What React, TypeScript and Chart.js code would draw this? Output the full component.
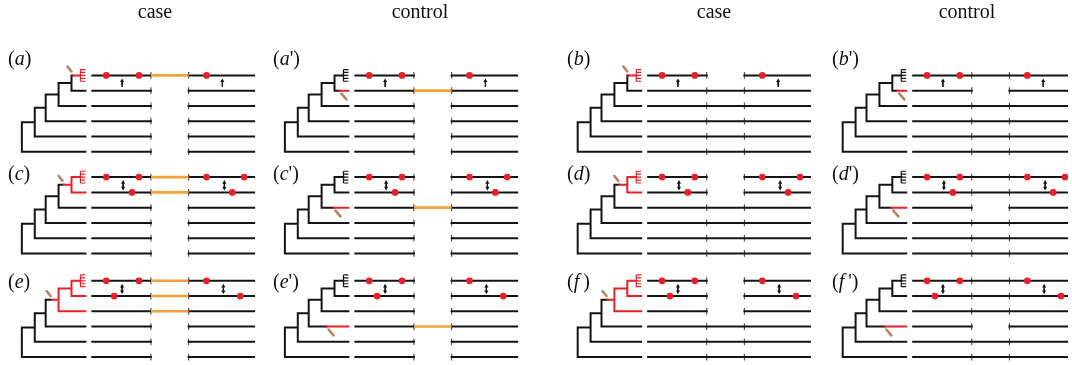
import React, { useEffect, useRef } from "react";
import { Chart, registerables } from "chart.js";

Chart.register(...registerables);

// ---------------- data ----------------
const columnHeaders = ["case", "control", "case", "control"];
const leftLetters = ["a", "c", "e"];
const rightLetters = ["b", "d", "f"];

// tree topology (ladder tree with six tips)
const treeParent: Record<string, string> = {
  t1: "n12", t2: "n12", t3: "n123", t4: "n1234", t5: "n5", t6: "root",
  n12: "n123", n123: "n1234", n1234: "n5", n5: "root",
};
const nodeDepth: Record<string, number> = {
  root: 18, n5: 31, n1234: 42, n123: 55, n12: 68,
  t1: 77, t2: 82, t3: 82, t4: 82, t5: 82, t6: 82,
};
const tipRow: Record<string, number> = { t1: 0, t2: 1, t3: 2, t4: 3, t5: 4, t6: 5 };
const combTeeth = [-6, -3, 0, 3, 6];
const combEnd = 82;

// mutated branch and where on it the mutation sits
const caseMutBranch = ["t1", "n12", "n123"];
const caseMutPos = [69, 60, 48];
const controlMutBranch = ["t2", "t3", "t4"];
const controlMutPos = [73, 67, 60];

// which sequence rows are affected
const caseAffectedRows = [[0], [0, 1], [0, 1, 2]];
const controlAffectedRows = [[1], [2], [3]];

// sequence mutations (red dots) on rows 1 and 2
const seqMutRow1 = [[103, 136, 204], [103, 136, 204, 242], [103, 136, 204]];
const seqMutRow2 = [[], [129, 230], [111, 238]];
const arrowPos = [[119, 220], [120, 222], [119, 221]];
const arrowTwoHeaded = [false, true, true];

const segmentLeft = [89, 148];
const segmentRight = [186, 252];

// ---------------- layout ----------------
const W = 1072;
const H = 365;
const colOffset = [0, 265, 560, 827];
const blockTop = [73, 177, 283];
const rowStep = 15.6;
const headerCenter = [155, 420, 714, 967];
const headerBaseline = 18;
const labelLeft = [8, 273, 567, 832];
const labelBaseline = [65, 180, 288];
const FONT = "'Liberation Serif', 'Times New Roman', serif";
const FS = 20;

const BLACK = "#141414";
const RED = "#e8202a";
const ORANGE = "#f2a238";
const BROWN = "#b98561";
const TICK = "#555555";

type Seg = [number, number, number, number];
type Pt = { x: number; y: number | null };

function segsToData(segs: Seg[]): Pt[] {
  const out: Pt[] = [];
  for (const [x1, y1, x2, y2] of segs) {
    out.push({ x: x1, y: y1 }, { x: x2, y: y2 }, { x: x2, y: null });
  }
  return out;
}

function buildAll() {
  const black: Seg[] = [];
  const red: Seg[] = [];
  const orange: Seg[] = [];
  const ticks: Seg[] = [];
  const thinBlack: Seg[] = [];
  const thinRed: Seg[] = [];
  const brown: Seg[] = [];
  const arrows: Seg[] = [];
  const dots: Pt[] = [];
  const upHeads: Pt[] = [];
  const downHeads: Pt[] = [];

  const children: Record<string, string[]> = {};
  for (const [c, p] of Object.entries(treeParent)) {
    (children[p] = children[p] || []).push(c);
  }

  for (let col = 0; col < 4; col++) {
    for (let block = 0; block < 3; block++) {
      const ox = colOffset[col];
      const top = blockTop[block];
      const isCase = col % 2 === 0;
      const isDeletion = col >= 2;
      const mutBranch = isCase ? caseMutBranch[block] : controlMutBranch[block];
      const mutX = isCase ? caseMutPos[block] : controlMutPos[block];
      const affected = isCase ? caseAffectedRows[block] : controlAffectedRows[block];

      const yOf: Record<string, number> = {};
      const calcY = (id: string): number => {
        if (id in tipRow) {
          yOf[id] = top + tipRow[id] * rowStep;
        } else {
          const ys = children[id].map(calcY);
          yOf[id] = ys.reduce((a, b) => a + b, 0) / ys.length;
        }
        return yOf[id];
      };
      calcY("root");

      const isUnder = (id: string) => {
        let cur: string | undefined = id;
        while (cur) {
          if (cur === mutBranch) return true;
          cur = treeParent[cur];
        }
        return false;
      };

      // stems
      for (const id of Object.keys(treeParent)) {
        const px = ox + nodeDepth[treeParent[id]];
        const x = ox + nodeDepth[id];
        const y = yOf[id];
        if (id === mutBranch) {
          black.push([px, y, ox + mutX, y]);
          red.push([ox + mutX, y, x, y]);
        } else if (isUnder(id)) {
          red.push([px, y, x, y]);
        } else {
          black.push([px, y, x, y]);
        }
      }
      // verticals
      for (const id of Object.keys(children)) {
        const ys = children[id].map((c) => yOf[c]);
        const x = ox + nodeDepth[id];
        const seg: Seg = [x, Math.min(...ys), x, Math.max(...ys)];
        (isUnder(id) ? red : black).push(seg);
      }
      // comb on tip 1
      {
        const cx = ox + nodeDepth.t1;
        const cy = yOf.t1;
        const combRed = isUnder("t1");
        const target = combRed ? thinRed : thinBlack;
        target.push([cx, cy + combTeeth[0], cx, cy + combTeeth[combTeeth.length - 1]]);
        for (const t of combTeeth) target.push([cx, cy + t, ox + combEnd, cy + t]);
      }
      // mutation mark
      {
        const my = yOf[mutBranch];
        if (isCase) brown.push([ox + mutX - 5, my - 9, ox + mutX - 1, my - 4]);
        else brown.push([ox + mutX + 2, my + 3, ox + mutX + 7, my + 9]);
      }

      // sequences
      for (let r = 0; r < 6; r++) {
        const y = top + r * rowStep;
        black.push([ox + segmentLeft[0], y, ox + segmentLeft[1], y]);
        black.push([ox + segmentRight[0], y, ox + segmentRight[1], y]);
        const hit = affected.includes(r);
        if (!isDeletion && hit) orange.push([ox + segmentLeft[1], y, ox + segmentRight[0], y]);
        if (isDeletion && !hit) black.push([ox + segmentLeft[1], y, ox + segmentRight[0], y]);
        ticks.push([ox + segmentLeft[1], y - 3.5, ox + segmentLeft[1], y + 3.5]);
        ticks.push([ox + segmentRight[0], y - 3.5, ox + segmentRight[0], y + 3.5]);
      }
      const y0 = top;
      const y1 = top + rowStep;
      for (const x of seqMutRow1[block]) dots.push({ x: ox + x, y: y0 });
      for (const x of seqMutRow2[block]) dots.push({ x: ox + x, y: y1 });
      for (const ax of arrowPos[block]) {
        const a = ox + ax;
        arrows.push([a, y0 + 5, a, y1 - 4]);
        upHeads.push({ x: a, y: y0 + 5.5 });
        if (arrowTwoHeaded[block]) downHeads.push({ x: a, y: y1 - 4.5 });
      }
    }
  }

  const lineDs = (segs: Seg[], color: string, width: number, cap: CanvasLineCap = "square") => ({
    data: segsToData(segs),
    showLine: true,
    borderColor: color,
    backgroundColor: color,
    borderWidth: width,
    borderCapStyle: cap,
    pointRadius: 0,
    pointHoverRadius: 0,
    spanGaps: false,
    tension: 0,
  });

  // listed bottom -> top; reversed below because Chart.js paints dataset 0 last
  const layers = [
    lineDs(ticks, TICK, 1.2, "butt"),
    lineDs(black, BLACK, 2),
    lineDs(orange, ORANGE, 2.6, "butt"),
    lineDs(red, RED, 2),
    lineDs(thinBlack, BLACK, 1.2, "butt"),
    lineDs(thinRed, RED, 1.2, "butt"),
    lineDs(brown, BROWN, 2.6, "round"),
    lineDs(arrows, BLACK, 1, "butt"),
    {
      data: upHeads,
      showLine: false,
      pointStyle: "triangle",
      pointRadius: 2.4,
      pointRotation: 0,
      backgroundColor: BLACK,
      borderColor: BLACK,
      borderWidth: 0,
    },
    {
      data: downHeads,
      showLine: false,
      pointStyle: "triangle",
      pointRadius: 2.4,
      pointRotation: 180,
      backgroundColor: BLACK,
      borderColor: BLACK,
      borderWidth: 0,
    },
    {
      data: dots,
      showLine: false,
      pointStyle: "circle",
      pointRadius: 3.4,
      backgroundColor: RED,
      borderColor: RED,
      borderWidth: 0,
    },
  ];
  return layers.reverse();
}

function Label({ col, block }: { col: number; block: number }) {
  const letter = col < 2 ? leftLetters[block] : rightLetters[block];
  const prime = col % 2 === 1;
  const isF = letter === "f";
  return (
    <span
      style={{
        position: "absolute",
        left: labelLeft[col],
        top: labelBaseline[block] - FS * 0.8375,
        fontFamily: FONT,
        fontSize: FS,
        lineHeight: `${FS}px`,
        whiteSpace: "pre",
        color: "#111",
      }}
    >
      (<i>{letter}</i>
      {isF ? "\u2009" : ""}
      {prime ? "'" : ""})
    </span>
  );
}

export default function App() {
  const ref = useRef<HTMLCanvasElement | null>(null);
  useEffect(() => {
    if (!ref.current) return;
    const chart = new Chart(ref.current, {
      type: "scatter",
      data: { datasets: buildAll() as any },
      options: {
        animation: false,
        responsive: false,
        devicePixelRatio: 1,
        layout: { padding: 0 },
        events: [],
        plugins: { legend: { display: false }, tooltip: { enabled: false } },
        scales: {
          x: { type: "linear", min: 0, max: W, display: false },
          y: { type: "linear", min: 0, max: H, reverse: true, display: false },
        },
      },
    });
    return () => chart.destroy();
  }, []);

  const labels: JSX.Element[] = [];
  for (let col = 0; col < 4; col++)
    for (let block = 0; block < 3; block++)
      labels.push(<Label key={`${col}-${block}`} col={col} block={block} />);

  return (
    <div style={{ position: "fixed", left: 0, top: 0, width: W, height: H, background: "#fff" }}>
      <canvas ref={ref} width={W} height={H} style={{ display: "block", width: W, height: H }} />
      {columnHeaders.map((h, i) => (
        <span
          key={h + i}
          style={{
            position: "absolute",
            left: headerCenter[i] - 100,
            width: 200,
            textAlign: "center",
            top: headerBaseline - FS * 0.8375,
            fontFamily: FONT,
            fontSize: FS,
            lineHeight: `${FS}px`,
            color: "#111",
          }}
        >
          {h}
        </span>
      ))}
      {labels}
    </div>
  );
}
